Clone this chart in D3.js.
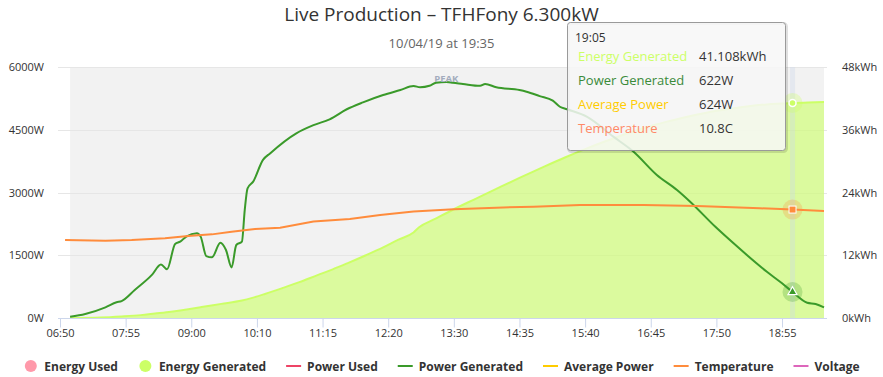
<!DOCTYPE html>
<html><head><meta charset="utf-8">
<script src="https://cdn.jsdelivr.net/npm/d3@7"></script>
<style>body{margin:0;background:#fff} svg{display:block} text{font-family:"Open Sans",sans-serif}</style>
</head><body><svg id="c" width="883" height="377"></svg>
<script>
// ---------- data ----------
const xTickLabels = ["06:50","07:55","09:00","10:10","11:15","12:20","13:30","14:35","15:40","16:45","17:50","18:55"];
const xLastLabel = "19:35";
const leftTicks = [0,1500,3000,4500,6000];
const rightTicks = [0,12,24,36,48];

const energyTimes  = ["07:00","07:30","07:51","08:10","08:24","08:40","08:57","09:11","09:32","09:54","10:05","10:18","10:35","10:52","11:10","11:25","11:40","11:58","12:15","12:31","12:47","12:53","13:10","13:30","13:50","14:10","14:35","15:00","15:20","15:40","16:00","16:20","16:40","17:00","17:20","17:40","18:00","18:20","18:40","18:55","19:05","19:20","19:35"];
const energyValues = [0,0.1,0.3,0.55,0.85,1.2,1.66,2.1,2.7,3.35,3.85,4.6,5.7,6.85,8.2,9.3,10.5,12.0,13.5,15.0,16.35,17.35,18.95,20.8,22.65,24.5,26.8,29.0,30.7,32.3,33.8,35.2,36.45,37.5,38.45,39.25,39.9,40.45,40.85,41.0,41.108,41.22,41.3];

const powerTimes  = ["07:00","07:15","07:35","07:46","07:51","08:04","08:21","08:30","08:36","08:44","08:49","08:55","09:06","09:10","09:16","09:22","09:31","09:37","09:43","09:48","09:54","09:57","10:00","10:06","10:16","10:23","10:49","11:06","11:22","11:39","11:55","12:15","12:33","12:47","12:54","13:04","13:11","13:22","13:29","13:39","13:56","14:01","14:12","14:35","14:42","14:55","15:08","15:15","15:22","15:42","16:08","16:28","16:51","17:11","17:24","17:49","18:07","18:40","18:55","19:05","19:19","19:27","19:35"];
const powerValues = [30,95,255,375,405,670,1030,1280,1165,1770,1825,1945,2025,1945,1480,1450,1800,1625,1210,1745,1825,2580,3100,3260,3780,3935,4415,4610,4750,4990,5155,5330,5450,5545,5515,5550,5625,5640,5625,5595,5550,5595,5515,5450,5410,5305,5195,5050,4990,4810,4335,3975,3420,3060,2780,2180,1785,1105,830,622,365,335,255];

const tempTimes  = ["06:55","07:35","08:01","08:34","08:57","09:22","09:43","10:08","10:33","11:06","11:42","12:12","12:47","13:30","14:12","14:49","15:35","16:38","17:31","18:33","19:05","19:35"];
const tempValues = [7.77,7.70,7.77,7.94,8.17,8.33,8.6,8.86,9.0,9.6,9.86,10.26,10.6,10.83,10.99,11.09,11.25,11.25,11.16,10.93,10.8,10.66];

const legendNames   = ["Energy Used","Energy Generated","Power Used","Power Generated","Average Power","Temperature","Voltage"];
const legendColors  = ["#ff99aa","#ccff66","#ee4466","#3a9a2a","#ffcc00","#ff8c3c","#dd66bb"];
const legendSymbols = ["circle","circle","line","line","line","line","line"];

const tooltipTime   = "19:05";
const tooltipNames  = ["Energy Generated","Power Generated","Average Power","Temperature"];
const tooltipValues = ["41.108kWh","622W","624W","10.8C"];
const tooltipColors = ["#ccff66","#3a8a3a","#ffcc00","#ff8866"];
const peakTime = "13:22";

const titleText = "Live Production \u2013 TFHFony 6.300kW";
const subtitleText = "10/04/19 at 19:35";

// ---------- scales ----------
const parse = d3.timeParse("%H:%M");
const xDomain = xTickLabels.concat([xLastLabel]).map(parse);
const xRange = xTickLabels.map((d,i)=>60+i*65.64).concat([824]);
const x = d3.scaleTime().domain(xDomain).range(xRange);
const yP = d3.scaleLinear().domain([0,6000]).range([318,67]);
const yE = d3.scaleLinear().domain([0,48]).range([318,67]);
const yT = d3.scaleLinear().domain([0,25]).range([318,67]);

const svg = d3.select("#c");
const L = 58, R = 827;

// title
svg.append("text").attr("x",441.5).attr("y",21).attr("text-anchor","middle")
  .attr("font-size",19).attr("fill","#333").text(titleText);
svg.append("text").attr("x",441.5).attr("y",48).attr("text-anchor","middle")
  .attr("font-size",13).attr("fill","#666").text(subtitleText);

// plot band
svg.append("rect").attr("x",x(parse(powerTimes[0]))).attr("y",yP(6000))
  .attr("width",x(parse(xLastLabel))-x(parse(powerTimes[0]))).attr("height",yP(0)-yP(6000))
  .attr("fill","#f2f2f2");

// grid
svg.append("g").selectAll("line").data(leftTicks).join("line")
  .attr("x1",L).attr("x2",R).attr("y1",d=>Math.round(yP(d))+0.5).attr("y2",d=>Math.round(yP(d))+0.5)
  .attr("stroke","#e6e6e6");

// energy area
const eData = energyTimes.map((t,i)=>({t:parse(t),v:energyValues[i]}));
svg.append("path").datum(eData)
  .attr("d",d3.area().x(d=>x(d.t)).y0(yE(0)).y1(d=>yE(d.v)).curve(d3.curveMonotoneX))
  .attr("fill","#ccff66").attr("fill-opacity",0.6);
svg.append("path").datum(eData)
  .attr("d",d3.line().x(d=>x(d.t)).y(d=>yE(d.v)).curve(d3.curveMonotoneX))
  .attr("fill","none").attr("stroke","#ccff66").attr("stroke-width",2);

// crosshair
const tx = x(parse(tooltipTime));
svg.append("rect").attr("x",tx-2.5).attr("y",yP(6000)).attr("width",5).attr("height",yP(0)-yP(6000))
  .attr("fill","rgba(204,214,235,0.35)");

// x axis
svg.append("line").attr("x1",L).attr("x2",R).attr("y1",318.5).attr("y2",318.5).attr("stroke","#ccd6eb");
const xa = svg.append("g").attr("transform","translate(0,318.5)")
  .call(d3.axisBottom(x).tickValues(xDomain.slice(0,-1)).tickFormat(d3.timeFormat("%H:%M")).tickSize(9).tickPadding(2));
xa.select(".domain").remove();
xa.selectAll(".tick line").attr("stroke","#ccd6eb");
xa.selectAll("text").attr("font-size",11).attr("fill","#333").attr("font-family","Open Sans");

// left axis
const la = svg.append("g").attr("transform","translate(44,0)")
  .call(d3.axisLeft(yP).tickValues(leftTicks).tickFormat(d=>d+"W").tickSize(0).tickPadding(0));
la.select(".domain").remove();
la.selectAll("text").attr("font-size",11).attr("fill","#333").attr("font-family","Open Sans");
// right axis
const ra = svg.append("g").attr("transform","translate(842,0)")
  .call(d3.axisRight(yE).tickValues(rightTicks).tickFormat(d=>d+"kWh").tickSize(0).tickPadding(0));
ra.select(".domain").remove();
ra.selectAll("text").attr("font-size",11).attr("fill","#333").attr("font-family","Open Sans");

// power line
const pData = powerTimes.map((t,i)=>({t:parse(t),v:powerValues[i]}));
svg.append("path").datum(pData)
  .attr("d",d3.line().x(d=>x(d.t)).y(d=>yP(d.v)).curve(d3.curveMonotoneX))
  .attr("fill","none").attr("stroke","#3a9a2a").attr("stroke-width",2).attr("stroke-linejoin","round");

// temperature line
const tData = tempTimes.map((t,i)=>({t:parse(t),v:tempValues[i]}));
svg.append("path").datum(tData)
  .attr("d",d3.line().x(d=>x(d.t)).y(d=>yT(d.v)))
  .attr("fill","none").attr("stroke","#ff8c3c").attr("stroke-width",2);

// peak label
const fmt = d3.timeFormat("%H:%M");
const pk = pData.find(d=>fmt(d.t)===peakTime);
svg.append("text").attr("x",x(pk.t)).attr("y",yP(pk.v)).attr("text-anchor","middle")
  .attr("font-size",9.5).attr("font-weight","bold").attr("fill","#a3acbd").text("PEAK");

// hover markers
const eh = eData.find(d=>fmt(d.t)===tooltipTime);
const ph = pData.find(d=>fmt(d.t)===tooltipTime);
const th = tData.find(d=>fmt(d.t)===tooltipTime);
const hg = svg.append("g");
hg.append("circle").attr("cx",x(eh.t)).attr("cy",yE(eh.v)).attr("r",10).attr("fill","#ccff66").attr("fill-opacity",0.3);
hg.append("circle").attr("cx",x(eh.t)).attr("cy",yE(eh.v)).attr("r",3.5).attr("fill","#ccff66").attr("stroke","#fff").attr("stroke-width",1.5);
hg.append("circle").attr("cx",x(th.t)).attr("cy",yT(th.v)).attr("r",10).attr("fill","#ff8c3c").attr("fill-opacity",0.25);
hg.append("rect").attr("x",x(th.t)-3.5).attr("y",yT(th.v)-3.5).attr("width",7).attr("height",7).attr("fill","#ff8c3c").attr("stroke","#fff").attr("stroke-width",1);
hg.append("circle").attr("cx",x(ph.t)).attr("cy",yP(ph.v)).attr("r",10).attr("fill","#3a9a2a").attr("fill-opacity",0.25);
hg.append("path").attr("transform",`translate(${x(ph.t)},${yP(ph.v)})`)
  .attr("d",d3.symbol(d3.symbolTriangle,36)()).attr("fill","#3a9a2a").attr("stroke","#fff").attr("stroke-width",1.2);

// legend
const lg = svg.append("g");
let items = [];
legendNames.forEach((n,i)=>{
  const g = lg.append("g");
  if(legendSymbols[i]==="circle"){
    g.append("circle").attr("cx",7.5).attr("cy",0).attr("r",6).attr("fill",legendColors[i]);
  } else {
    g.append("line").attr("x1",0).attr("x2",15).attr("y1",0).attr("y2",0).attr("stroke",legendColors[i]).attr("stroke-width",2);
  }
  const t = g.append("text").attr("x",21).attr("y",4.5).attr("font-size",12).attr("font-weight","bold").attr("fill","#333").text(n);
  const w = 21 + t.node().getComputedTextLength();
  items.push({g,w});
});
const gap = 20;
const total = d3.sum(items,d=>d.w) + gap*(items.length-1);
let sx = 441.5 - total/2;
items.forEach(it=>{ it.g.attr("transform",`translate(${sx},366)`); sx += it.w + gap; });

// tooltip
const tt = svg.append("g").attr("transform","translate(567.5,22.5)");
tt.append("rect").attr("x",1).attr("y",1).attr("width",218).attr("height",128).attr("rx",3)
  .attr("fill","none").attr("stroke","rgba(0,0,0,0.12)").attr("stroke-width",3);
tt.append("rect").attr("width",218).attr("height",128).attr("rx",3)
  .attr("fill","rgba(247,247,247,0.85)").attr("stroke","#9a9a9a").attr("stroke-width",1);
tt.append("text").attr("x",7.5).attr("y",19).attr("font-size",12).attr("fill","#333").text(tooltipTime);
tooltipNames.forEach((n,i)=>{
  tt.append("text").attr("x",10.5).attr("y",38+i*24).attr("font-size",13).attr("fill",tooltipColors[i]).text(n);
  tt.append("text").attr("x",131.5).attr("y",38+i*24).attr("font-size",13).attr("fill","#333").text(tooltipValues[i]);
});
</script></body></html>
